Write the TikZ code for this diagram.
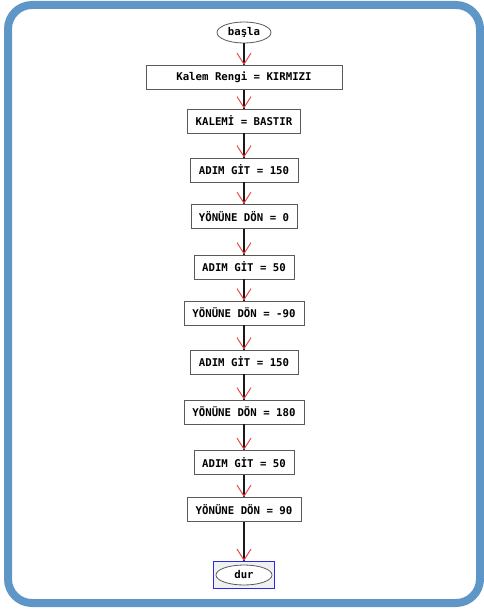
\documentclass[tikz,border=0pt]{standalone}
\usepackage{fontspec}
\newfontfamily\boxfont{DejaVu Sans Mono}[BoldFont={DejaVu Sans Mono Bold}]
\usetikzlibrary{arrows.meta,shapes.geometric,decorations.markings}
\definecolor{framecol}{RGB}{94,150,200}
\definecolor{arrred}{RGB}{236,72,72}
\definecolor{boxline}{RGB}{90,90,90}
\definecolor{durblue}{RGB}{40,40,230}
\tikzset{
  stepbox/.style={draw=boxline, line width=0.9pt, fill=white, minimum height=24pt,
    inner sep=0pt, font=\boxfont\bfseries\fontsize{10.7}{12}\selectfont},
  termnode/.style={ellipse, draw=boxline, line width=0.8pt, fill=white, minimum width=54pt,
    minimum height=21pt, inner sep=0pt, font=\boxfont\bfseries\fontsize{10.7}{12}\selectfont},
  flow/.style={draw=black!90, line width=1.3pt,
    postaction={decorate, decoration={markings,
      mark=at position 1 with {\arrow{Straight Barb[color=arrred, length=11pt, width=14pt, line width=1pt]}}}}}
}
\begin{document}
\begin{tikzpicture}[x=1pt,y=-1pt]
\useasboundingbox (0,0) rectangle (483,610);
\draw[line width=8pt, framecol, rounded corners=24pt] (8,5) rectangle (480,603);

\node[termnode] (s) at (244,32.5) {başla};
\node[stepbox, minimum width=196pt] (n1) at (244,77.5) {Kalem Rengi = KIRMIZI};
\node[stepbox, minimum width=113pt] (n2) at (244,121) {KALEMİ = BASTIR};
\node[stepbox, minimum width=108pt] (n3) at (244,170) {ADIM GİT = 150};
\node[stepbox, minimum width=106pt] (n4) at (244,216.5) {YÖNÜNE DÖN = 0};
\node[stepbox, minimum width=100pt] (n5) at (244,267) {ADIM GİT = 50};
\node[stepbox, minimum width=120pt] (n6) at (244,313) {YÖNÜNE DÖN = -90};
\node[stepbox, minimum width=108pt] (n7) at (244,362) {ADIM GİT = 150};
\node[stepbox, minimum width=120pt] (n8) at (244,412) {YÖNÜNE DÖN = 180};
\node[stepbox, minimum width=100pt] (n9) at (244,462.5) {ADIM GİT = 50};
\node[stepbox, minimum width=114pt] (n10) at (244,509.5) {YÖNÜNE DÖN = 90};
\node[draw=durblue, line width=1pt, fill=black!6, minimum width=61pt, minimum height=27pt] (e) at (244,575) {};
\node[termnode, minimum width=56pt, minimum height=20pt] (eo) at (244,575) {dur};

\draw[flow] (s) -- (n1);
\draw[flow] (n1) -- (n2);
\draw[flow] (n2) -- (n3);
\draw[flow] (n3) -- (n4);
\draw[flow] (n4) -- (n5);
\draw[flow] (n5) -- (n6);
\draw[flow] (n6) -- (n7);
\draw[flow] (n7) -- (n8);
\draw[flow] (n8) -- (n9);
\draw[flow] (n9) -- (n10);
\draw[flow] (n10) -- (e);
\end{tikzpicture}
\end{document}
